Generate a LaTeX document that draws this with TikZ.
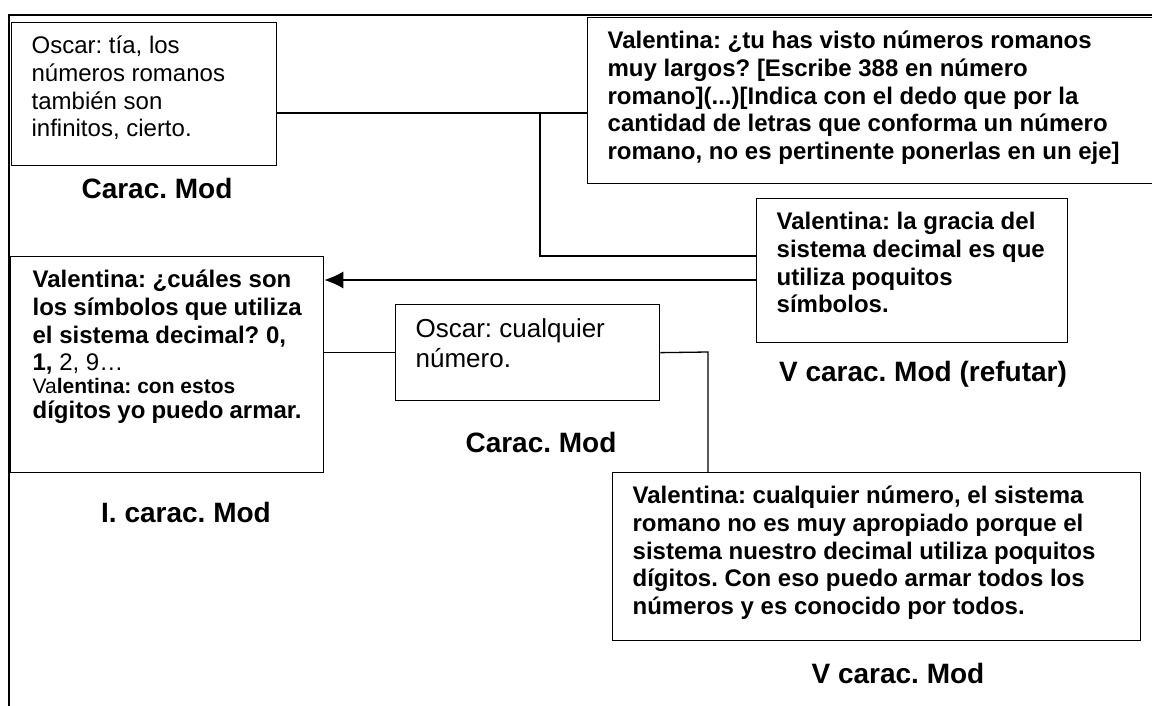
\documentclass[tikz,border=0pt]{standalone}
\usepackage{fontspec}
\setmainfont{Liberation Sans}
\usetikzlibrary{arrows.meta}
\frenchspacing
\newcommand{\boxtext}[3]{\parbox[c][#1][t]{#2}{\strut #3}}
\begin{document}
\begin{tikzpicture}[x=1pt,y=-1pt]
% styles
\tikzset{box/.style={draw, line width=1.3pt, anchor=north west, inner xsep=20pt, inner ysep=12pt, font=\fontsize{24}{27.6}\selectfont}}
\tikzset{boxbf/.style={box, font=\fontsize{24}{27.6}\selectfont\bfseries}}
\tikzset{tag/.style={anchor=base, font=\fontsize{28}{32}\selectfont\bfseries}}
\tikzset{link/.style={line width=1.3pt}}
\useasboundingbox (0,0) rectangle (1152,705);

% Draw the frame
\draw[line width=2pt] (1160,15) -- (9,15) -- (9,710);

% the boxes
\node[box] (A) at (11,22) {\boxtext{119pt}{225pt}{Oscar: tía, los\\ números romanos\\ también son\\ infinitos, cierto.}};
\node[boxbf] (B) at (587,17) {\boxtext{142pt}{540pt}{Valentina: ¿tu has visto números romanos\\ muy largos? [Escribe 388 en número\\ romano](...)[Indica con el dedo que por la\\ cantidad de letras que conforma un número\\ romano, no es pertinente ponerlas en un eje]}};
\node[boxbf] (C) at (756,198) {\boxtext{120pt}{271pt}{Valentina: la gracia del\\ sistema decimal es que\\ utiliza poquitos\\ símbolos.}};
\node[boxbf, inner xsep=22pt] (D) at (10,256) {\boxtext{192pt}{269pt}{Valentina: ¿cuáles son\\ los símbolos que utiliza\\ el sistema decimal? 0,\\ 1,{\mdseries\ 2, 9…}\par
  \fontsize{21}{23}\selectfont{\mdseries Va}lentina: con estos\par
  \fontsize{24}{25}\selectfont dígitos yo puedo armar.}};
\node[box, font=\fontsize{26}{30}\selectfont] (E) at (395,304) {\boxtext{72pt}{224pt}{Oscar: cualquier\\ número.}};
\node[boxbf] (F) at (612,472) {\boxtext{144pt}{488pt}{Valentina: cualquier número, el sistema\\ romano no es muy apropiado porque el\\ sistema nuestro decimal utiliza poquitos\\ dígitos. Con eso puedo armar todos los\\ números y es conocido por todos.}};

% the connectors
\coordinate (jAB) at (540,113);
\coordinate (jC) at (540,256);
\coordinate (tip) at (0,280);
\coordinate (jF) at (708,352);
\draw[link] (A.east |- jAB) -- (B.west |- jAB);
\draw[link] (jAB) -- (jC) -- (C.west |- jC);
\draw[link, -{Latex[length=19pt,width=17pt]}] (C.west |- tip) -- (D.east |- tip);
\draw[link] (D.east |- E.west) -- (E.west);
\draw[link] (E.east) -- (jF) -- (jF |- F.north);

% the labels
\foreach \n/\x/\y/\t in {A/157/198/Carac. Mod, D/186/522/I. carac. Mod, E/541/452/Carac. Mod, C/923/381/V carac. Mod (refutar), F/898/683/V carac. Mod} {
\node[tag] (lab\n) at (\x,\y) {\t};
}
\end{tikzpicture}
\end{document}
